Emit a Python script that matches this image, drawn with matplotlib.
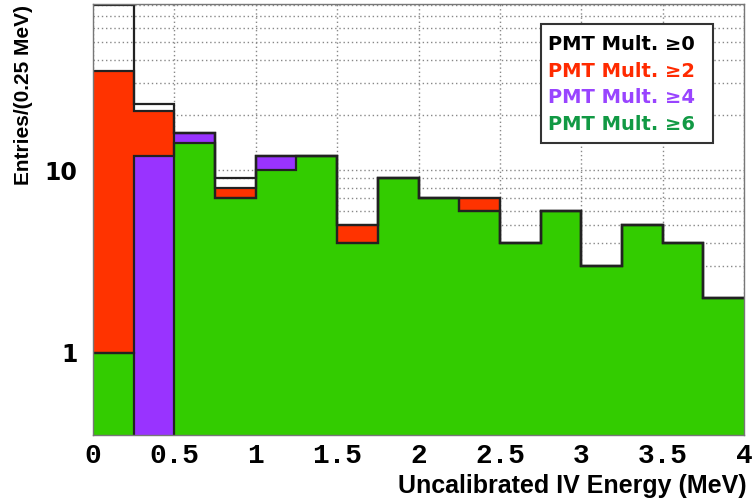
import numpy as np
import matplotlib
matplotlib.use("Agg")
import matplotlib.pyplot as plt
from matplotlib.patches import Rectangle

# bin edges (MeV) and counts per 0.25 MeV bin
edges = np.arange(0, 4.0001, 0.25)
mult0 = [80, 23, 16, 9, 12, 12, 5, 9, 7, 7, 4, 6, 3, 5, 4, 2]
mult2 = [35, 21, 16, 8, 12, 12, 5, 9, 7, 7, 4, 6, 3, 5, 4, 2]
mult4 = [1, 12, 16, 7, 12, 12, 4, 9, 7, 6, 4, 6, 3, 5, 4, 2]
mult6 = [1, 0, 14, 7, 10, 12, 4, 9, 7, 6, 4, 6, 3, 5, 4, 2]

labels = ["PMT Mult. \u22650", "PMT Mult. \u22652", "PMT Mult. \u22654", "PMT Mult. \u22656"]
fill_colors = [None, "#ff3300", "#9933ff", "#33cc00"]
text_colors = ["black", "#ff2a00", "#9944ff", "#119944"]

fig = plt.figure(figsize=(7.54, 5.03), dpi=100)
ax = fig.add_axes([93 / 754, 1 - 435 / 503, 651 / 754, 431 / 503])
ax.set_yscale("log")
ax.set_xlim(0, 4)
ax.set_ylim(0.356, 81)

ax.grid(True, which="major", axis="x", color="#888888", linestyle=(0, (1, 2)), lw=1)
ax.grid(True, which="both", axis="y", color="#888888", linestyle=(0, (1, 2)), lw=1)
ax.set_axisbelow(True)

for vals, fc in zip([mult0, mult2, mult4, mult6], fill_colors):
    if fc is not None:
        ax.stairs(vals, edges, fill=True, baseline=1e-3, color=fc, lw=0, zorder=2)
    ax.stairs(vals, edges, baseline=None, color="#222222", lw=1.6, zorder=3)

for s in ax.spines.values():
    s.set_color("#777777")
    s.set_linewidth(1)
    s.set_zorder(4)

ax.set_xticks(np.arange(0, 4.01, 0.5))
ax.set_xticklabels(["0", "0.5", "1", "1.5", "2", "2.5", "3", "3.5", "4"],
                   family="Liberation Mono", fontweight="bold", fontsize=20)
ax.set_yticks([1, 10])
ax.set_yticklabels(["1", "10"], family="DejaVu Sans", fontweight="bold", fontsize=17)
ax.yaxis.set_minor_formatter(matplotlib.ticker.NullFormatter())
ax.tick_params(which="both", length=0)
ax.tick_params(axis="x", pad=6)
ax.tick_params(axis="y", pad=11)

fig.text(0.990, 0.033, "Uncalibrated IV Energy (MeV)", ha="right", va="center",
         family="Liberation Sans", fontweight="bold", fontsize=18)
fig.text(0.031, 0.99, "Entries/(0.25 MeV)", ha="center", va="top", rotation=90,
         family="Liberation Sans", fontweight="bold", fontsize=15)

# legend box
ax.add_patch(Rectangle((0.688, 0.677), 0.264, 0.277, transform=ax.transAxes,
                       facecolor="white", edgecolor="#333333", lw=1.5, zorder=5))
for i, (lab, c) in enumerate(zip(labels, text_colors)):
    ax.text(0.699, 0.905 - i * 0.0612, lab, transform=ax.transAxes, color=c,
            family="DejaVu Sans", fontweight="bold", fontsize=14,
            va="center", ha="left", zorder=6)

fig.savefig("out.png", dpi=100)
